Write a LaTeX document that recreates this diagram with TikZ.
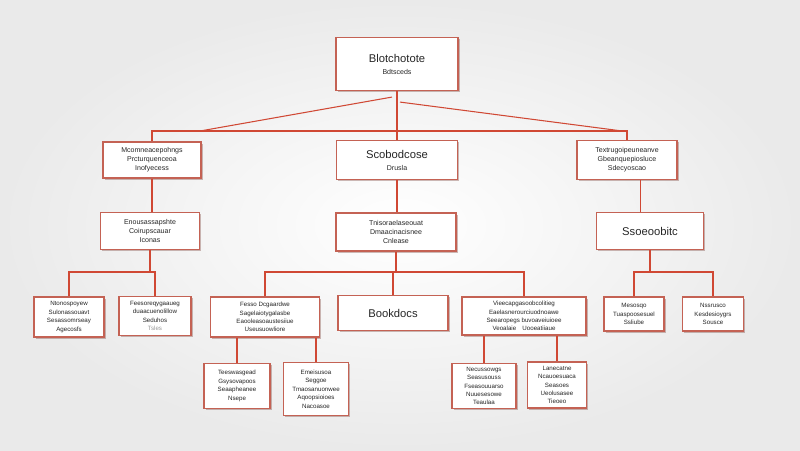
\documentclass[tikz,border=0pt]{standalone}
\usepackage{fontspec}
\setmainfont{Liberation Sans}
\usepackage{xcolor}
\usepackage{tikz}
\usetikzlibrary{positioning, calc, shadows}

\definecolor{boxred}{RGB}{196,98,84}
\definecolor{linkred}{RGB}{208,72,52}
\definecolor{paper}{RGB}{234,234,234}

\newcommand{\bigtxt}{\fontsize{8}{9.5}\selectfont}
\newcommand{\smalltxt}{\fontsize{5}{6.4}\selectfont}
\newcommand{\tinytxt}{\fontsize{4.4}{6}\selectfont}

\begin{document}
\begin{tikzpicture}[x=0.025cm, y=-0.025cm,
    box/.style args={#1/#2}{draw=boxred, line width=0.8pt, fill=white, align=center,
      inner sep=1pt, text=black!85, minimum width=#1*0.025cm, minimum height=#2*0.025cm,
      drop shadow={shadow xshift=1.1pt, shadow yshift=-1.1pt, fill=boxred!60!black, opacity=0.35}},
    link/.style={draw=linkred, line width=0.75pt}]

  % paper
  \useasboundingbox (0,0) rectangle (800,450);
  \shade[inner color=white, outer color=paper] (0,0) rectangle (800,450);

  % root
  \node[box=122/53, font=\bigtxt] (top) at (397,64) {Blotchotote\\[-1pt]{\smalltxt Bdtsceds}};

  % first level
  \node[box=98/36, font=\smalltxt] (l1a) at (152,160) {Mcomneacepohngs\\Prcturquenceoa\\Inofyecess};
  \node[box=121/39, font=\bigtxt] (l1b) at (397,160) {Scobodcose\\[-1pt]{\smalltxt Drusla}};
  \node[box=100/39, font=\smalltxt] (l1c) at (627,160) {Textrugoipeuneanve\\Gbeanquepiosluce\\Sdecyoscao};

  % second level
  \node[box=99/37, font=\smalltxt] (l2a) at (150,231) {Enousassapshte\\Coirupscauar\\Iconas};
  \node[box=120/38, font=\smalltxt] (l2b) at (396,232) {Tnisoraelaseouat\\Dmaacinacisnee\\Cnlease};
  \node[box=107/37, font=\bigtxt] (l2c) at (650,231) {Ssoeoobitc};

  % third level
  \node[box=70/40, font=\tinytxt] (l3a) at (69,317) {Ntonospoyew\\Sulonassouavt\\Sesassomrseay\\Agecosfs};
  \node[box=72/39, font=\tinytxt] (l3b) at (155,316) {Feesoreqygaaueg\\duaacuenolillow\\Seduhos\\{\color{black!40}Tsles}};
  \node[box=109/40, font=\tinytxt] (l3c) at (265,317) {Fesso Dcgaardwe\\Sagelaiotygalasbe\\Eaooleasoaustesiiue\\Useusuowliore};
  \node[box=110/35, font=\bigtxt] (l3d) at (393,313) {Bookdocs};
  \node[box=124/38, font=\tinytxt] (l3e) at (524,316) {Vieecapgasoobcolitieg\\Eaelasnerourciuodnoawe\\Seearopegs buvoaveiuioee\\Veoalaie\quad Uooeatiiaue};
  \node[box=60/34, font=\tinytxt] (l3f) at (634,314) {Mesosqo\\Tuaspoosesuel\\Ssliube};
  \node[box=61/34, font=\tinytxt] (l3g) at (713,314) {Nssrusco\\Kesdesioygrs\\Sousce};

  % fourth level
  \node[box=66/45, font=\tinytxt] (l4a) at (237,386) {Teeswasgead\\Gsysovapoos\\Seaapheanee\\Nsepe};
  \node[box=65/53, font=\tinytxt] (l4b) at (316,389) {Emeisusoa\\Seggoe\\Tmaosanuonwee\\Aqoopsioioes\\Nacoasoe};
  \node[box=64/45, font=\tinytxt] (l4c) at (484,386) {Necussowgs\\Seasusouss\\Fseasouuarso\\Nuuesesowe\\Teaulaa};
  \node[box=59/46, font=\tinytxt] (l4d) at (557,385) {Lanecatne\\Ncauoesuaca\\Seasoes\\Ueolusasee\\Tieoeo};

  % root to first level
  \coordinate (busa) at (397,131);
  \draw[link] (top) -- (l1b);
  \draw[link] (l1a.north) |- (busa) -| (l1c.north);
  \draw[link] ([shift={(-5,6)}]top.south) -- ([xshift=1.2cm]l1a.north |- busa);
  \draw[link] ([shift={(3,11)}]top.south) -- ([xshift=-0.12cm]l1c.north |- busa);

  % first to second level
  \draw[link] (l1a.south) -- (l1a.south |- l2a.north);
  \draw[link] (l1b.south) -- (l1b.south |- l2b.north);
  \coordinate (kc) at ([xshift=0.33cm]l1c.south);
  \draw[link] (kc) -- (kc |- l2c.north);

  % second to third level
  \coordinate (busb) at (0,272);
  \draw[link] (l2a.south) -- (l2a.south |- busb);
  \draw[link] (l3a.north) |- (l3b.north |- busb) -- (l3b.north);
  \draw[link] (l2b.south) -- (l2b.south |- busb);
  \draw[link] (l3c.north) |- (l3e.north |- busb) -- (l3e.north);
  \draw[link] (l3d.north |- busb) -- (l3d.north);
  \draw[link] (l2c.south) -- (l2c.south |- busb);
  \draw[link] (l3f.north) |- (l3g.north |- busb) -- (l3g.north);

  % third to fourth level
  \draw[link] (l4a.north |- l3c.south) -- (l4a.north);
  \draw[link] (l4b.north |- l3c.south) -- (l4b.north);
  \draw[link] (l4c.north |- l3e.south) -- (l4c.north);
  \draw[link] (l4d.north |- l3e.south) -- (l4d.north);
\end{tikzpicture}
\end{document}
